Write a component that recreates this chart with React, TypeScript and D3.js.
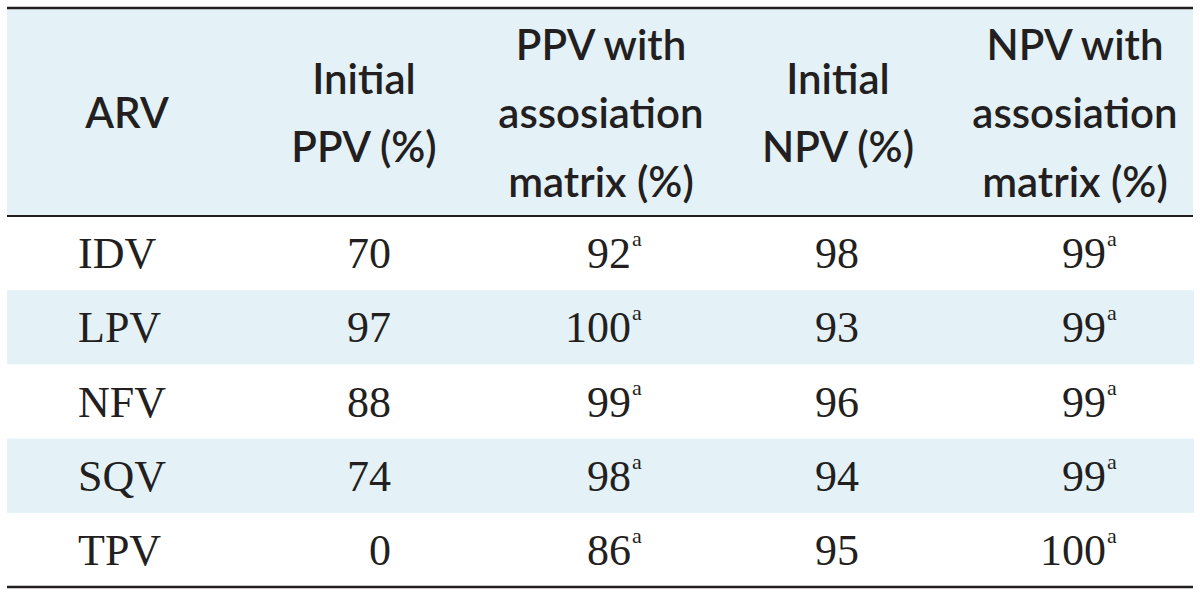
import React from "react";
import * as d3 from "d3";

const drugs = ["IDV", "LPV", "NFV", "SQV", "TPV"];
const initialPPV = [70, 97, 88, 74, 0];
const ppvWithMatrix = [92, 100, 99, 98, 86];
const initialNPV = [98, 93, 96, 94, 95];
const npvWithMatrix = [99, 99, 99, 99, 100];
const headerLines = [
  ["ARV"],
  ["Initial", "PPV (%)"],
  ["PPV with", "assosiation", "matrix (%)"],
  ["Initial", "NPV (%)"],
  ["NPV with", "assosiation", "matrix (%)"],
];
const footnoteMark = "a";

const W = 1200;
const H = 592;
const INK = "#231f20";
const SHADE = "#e4f2f8";

export default function App() {
  const left = 7;
  const right = 1193;
  const top = 8;
  const headBottom = 216;
  const bottom = 587;

  const y = d3.scaleBand<string>().domain(drugs).range([headBottom, bottom]).padding(0);

  const headerCenters = [127, 364, 601, 838, 1075];
  const headerMid = 128;
  const lineGap = 68.5;

  const cols: { values: number[]; x: number; anchor: "end" | "middle"; sup: boolean }[] = [
    { values: initialPPV, x: 391, anchor: "end", sup: false },
    { values: ppvWithMatrix, x: 631, anchor: "end", sup: true },
    { values: initialNPV, x: 859, anchor: "end", sup: false },
    { values: npvWithMatrix, x: 1106, anchor: "end", sup: true },
  ];

  const serif = "'Liberation Serif', 'Times New Roman', serif";
  const sans = "Lato, 'Noto Sans', sans-serif";

  return (
    <svg
      width={W}
      height={H}
      viewBox={`0 0 ${W} ${H}`}
      style={{ position: "absolute", left: 0, top: 0, display: "block", background: "#fff" }}
    >
      <rect x={left} y={top} width={right - left} height={headBottom - top} fill={SHADE} />
      {drugs.map((d, i) =>
        i % 2 === 1 ? (
          <rect key={d} x={left} y={y(d)!} width={right - left + 1} height={y.bandwidth()} fill={SHADE} />
        ) : null
      )}
      <line x1={left} x2={right} y1={top} y2={top} stroke={INK} strokeWidth={2.5} />
      <line x1={left} x2={right} y1={headBottom} y2={headBottom} stroke={INK} strokeWidth={2} />
      <line x1={left} x2={right} y1={bottom} y2={bottom} stroke={INK} strokeWidth={2.5} />

      {headerLines.map((lines, c) =>
        lines.map((t, k) => {
          const by = headerMid + (k - (lines.length - 1) / 2) * lineGap;
          return (
            <text
              key={`h${c}-${k}`}
              x={headerCenters[c]}
              y={by}
              textAnchor="middle"
              fontFamily={sans}
              fontWeight={600}
              fontSize={42}
              fill={INK}
            >
              {t}
            </text>
          );
        })
      )}

      {drugs.map((d) => {
        const by = y(d)! + y.bandwidth() / 2 + 15;
        return (
          <text key={`l${d}`} x={78} y={by} fontFamily={serif} fontSize={44} fill={INK}>
            {d}
          </text>
        );
      })}

      {cols.map((col, c) =>
        drugs.map((d, i) => {
          const by = y(d)! + y.bandwidth() / 2 + 15;
          return (
            <g key={`c${c}-${d}`}>
              <text x={col.x} y={by} textAnchor={col.anchor} fontFamily={serif} fontSize={44} fill={INK}>
                {col.values[i]}
              </text>
              {col.sup ? (
                <text x={col.x + 1} y={by - 22} fontFamily={serif} fontSize={22} fill={INK}>
                  {footnoteMark}
                </text>
              ) : null}
            </g>
          );
        })
      )}
    </svg>
  );
}
